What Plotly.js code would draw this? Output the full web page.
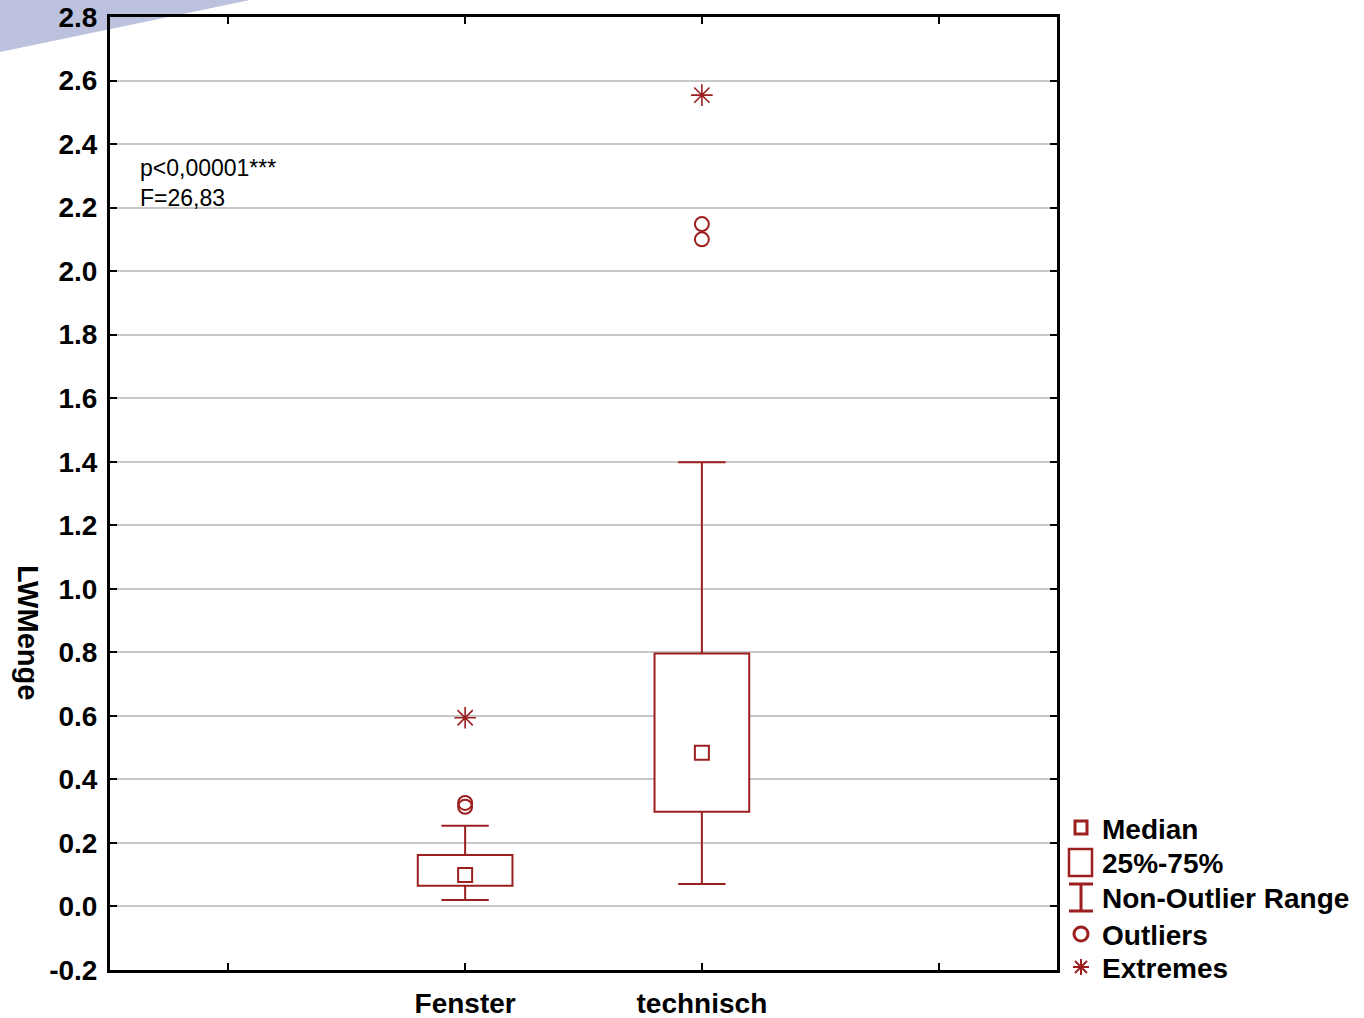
<!DOCTYPE html>
<html>
<head>
<meta charset="utf-8">
<script src="https://cdn.plot.ly/plotly-3.0.1.min.js"></script>
<style>html,body{margin:0;padding:0;background:#fff;}#chart{width:1364px;height:1018px;}</style>
</head>
<body>
<div id="chart"></div>
<script>
// Category slots (first and last are empty in the original)
var slotLabels = ['', 'Fenster', 'technisch', ''];
var groupIndex = [1, 2];
// Box statistics
var q1 = [0.065, 0.298];
var median = [0.099, 0.484];
var q3 = [0.162, 0.796];
var whiskerLow = [0.020, 0.071];
var whiskerHigh = [0.254, 1.398];
// Outliers and extremes
var outlierGroup = [1, 1, 2, 2];
var outlierValue = [0.326, 0.314, 2.148, 2.100];
var extremeGroup = [1, 2];
var extremeValue = [0.594, 2.554];
var yTicks = [-0.2, 0.0, 0.2, 0.4, 0.6, 0.8, 1.0, 1.2, 1.4, 1.6, 1.8, 2.0, 2.2, 2.4, 2.6, 2.8];
var yTickText = ['-0.2', '0.0', '0.2', '0.4', '0.6', '0.8', '1.0', '1.2', '1.4', '1.6', '1.8', '2.0', '2.2', '2.4', '2.6', '2.8'];
var legendLabels = ['Median', '25%-75%', 'Non-Outlier Range', 'Outliers', 'Extremes'];

var RED = '#9c1f1f';
var FAM = 'Liberation Sans, Arial, sans-serif';
var BOLD = {family: FAM, size: 28, color: '#000', weight: 'bold'};
var BOX_W = 0.4, CAP = 0.1;

// plot area in pixels (for placing the hand-made legend in the right margin)
var W = 1364, H = 1018, ML = 110, MR = 307, MT = 17, MB = 48;
var PW = W - ML - MR, PH = H - MT - MB;
function px(p) { return (p - ML) / PW; }
function py(p) { return (H - MB - p) / PH; }

var boxTrace = {
  type: 'bar', name: '25%-75%', x: groupIndex, base: q1,
  y: q3.map(function (v, i) { return v - q1[i]; }),
  width: BOX_W,
  marker: {color: '#ffffff', line: {color: RED, width: 2}},
  hoverinfo: 'skip'
};

var wx = [], wy = [];
groupIndex.forEach(function (g, i) {
  wx.push(g, g, null, g - CAP, g + CAP, null, g, g, null, g - CAP, g + CAP, null);
  wy.push(q3[i], whiskerHigh[i], null, whiskerHigh[i], whiskerHigh[i], null,
          q1[i], whiskerLow[i], null, whiskerLow[i], whiskerLow[i], null);
});
var whiskerTrace = {
  type: 'scatter', mode: 'lines', name: 'Non-Outlier Range', x: wx, y: wy,
  line: {color: RED, width: 2}, hoverinfo: 'skip'
};
var medianTrace = {
  type: 'scatter', mode: 'markers', name: 'Median', x: groupIndex, y: median,
  marker: {symbol: 'square-open', size: 14, color: RED, line: {width: 2, color: RED}}
};
var outlierTrace = {
  type: 'scatter', mode: 'markers', name: 'Outliers', x: outlierGroup, y: outlierValue,
  marker: {symbol: 'circle-open', size: 14, color: RED, line: {width: 2, color: RED}}
};
var extremeTrace = {
  type: 'scatter', mode: 'markers', name: 'Extremes', x: extremeGroup, y: extremeValue,
  marker: {symbol: 'asterisk-open', size: 18, color: RED, line: {width: 1.6, color: RED}}
};
var data = [boxTrace, whiskerTrace, medianTrace, outlierTrace, extremeTrace];

// hand-made legend (Statistica style)
var legendRows = [828, 862, 897, 934, 967];
var cx = 1081;
var shapes = [
  {type: 'path', xref: 'paper', yref: 'paper', layer: 'below',
   path: 'M ' + px(0) + ',' + py(0) + ' L ' + px(250) + ',' + py(0) + ' L ' + px(0) + ',' + py(52) + ' Z',
   fillcolor: '#bcc2de', line: {width: 0}}
];
function rect(x0, y0, x1, y1, w) {
  return {type: 'rect', xref: 'paper', yref: 'paper', x0: px(x0), x1: px(x1), y0: py(y0), y1: py(y1),
          line: {color: RED, width: w}, fillcolor: 'rgba(0,0,0,0)'};
}
function seg(x0, y0, x1, y1, w) {
  return {type: 'line', xref: 'paper', yref: 'paper', x0: px(x0), x1: px(x1), y0: py(y0), y1: py(y1),
          line: {color: RED, width: w}};
}
shapes.push(rect(cx - 6, legendRows[0] - 7, cx + 6, legendRows[0] + 6, 3));
shapes.push(rect(cx - 12, legendRows[1] - 13, cx + 11, legendRows[1] + 14, 2.5));
shapes.push(seg(cx, legendRows[2] - 13, cx, legendRows[2] + 14, 3));
shapes.push(seg(cx - 12, legendRows[2] - 13, cx + 12, legendRows[2] - 13, 3));
shapes.push(seg(cx - 12, legendRows[2] + 14, cx + 12, legendRows[2] + 14, 3));
shapes.push({type: 'circle', xref: 'paper', yref: 'paper',
  x0: px(cx - 7), x1: px(cx + 7), y0: py(legendRows[3] - 7), y1: py(legendRows[3] + 7),
  line: {color: RED, width: 3}, fillcolor: 'rgba(0,0,0,0)'});
var ey = legendRows[4];
shapes.push(seg(cx - 8, ey, cx + 8, ey, 2));
shapes.push(seg(cx, ey - 8, cx, ey + 8, 2));
shapes.push(seg(cx - 6, ey - 6, cx + 6, ey + 6, 2));
shapes.push(seg(cx - 6, ey + 6, cx + 6, ey - 6, 2));

var annotations = [
  {xref: 'paper', yref: 'paper', x: px(138), y: py(153), xanchor: 'left', yanchor: 'top',
   align: 'left', showarrow: false,
   text: 'p&lt;0,00001***<br>F=26,83',
   font: {family: FAM, size: 23, color: '#000'}},
  {xref: 'paper', yref: 'paper', x: px(28), y: py(632), xanchor: 'center', yanchor: 'middle',
   showarrow: false, textangle: 90, text: 'LWMenge', font: {family: FAM, size: 29, color: '#000', weight: 'bold'}}
];
legendLabels.forEach(function (t, i) {
  annotations.push({xref: 'paper', yref: 'paper', x: px(1100), y: py(legendRows[i] + 1),
    xanchor: 'left', yanchor: 'middle', showarrow: false, text: t, font: BOLD});
});

var layout = {
  width: W, height: H,
  margin: {l: ML, r: MR, t: MT, b: MB, pad: 0},
  paper_bgcolor: '#ffffff', plot_bgcolor: '#ffffff',
  showlegend: false,
  xaxis: {
    range: [-0.5, 3.5], tickmode: 'array', tickvals: [0, 1, 2, 3], ticktext: slotLabels,
    showgrid: false, zeroline: false,
    showline: true, linecolor: '#000', linewidth: 3, mirror: 'ticks',
    ticks: 'inside', ticklen: 7, tickwidth: 2, tickcolor: '#000',
    tickfont: BOLD, ticklabelstandoff: 6, fixedrange: true
  },
  yaxis: {
    range: [-0.2, 2.8], tickmode: 'array', tickvals: yTicks, ticktext: yTickText,
    showgrid: true, gridcolor: '#c8c8c8', gridwidth: 2, zeroline: false,
    showline: true, linecolor: '#000', linewidth: 3, mirror: 'ticks',
    ticks: 'inside', ticklen: 7, tickwidth: 2, tickcolor: '#000',
    tickfont: BOLD, ticklabelstandoff: 4, fixedrange: true
  },
  annotations: annotations,
  shapes: shapes
};

Plotly.newPlot('chart', data, layout, {displayModeBar: false, staticPlot: true});
</script>
</body>
</html>
